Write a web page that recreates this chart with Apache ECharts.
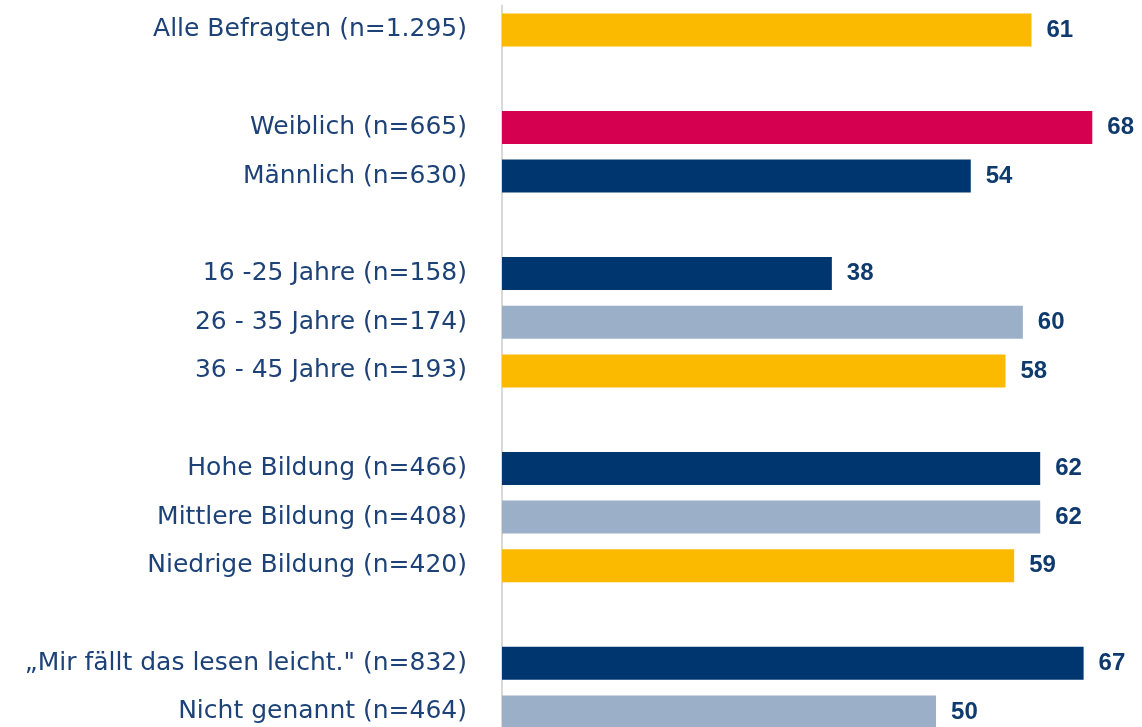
<!DOCTYPE html>
<html>
<head>
<meta charset="utf-8">
<script src="https://cdn.jsdelivr.net/npm/echarts@6/dist/echarts.min.js"></script>
<style>
  html, body { margin: 0; padding: 0; background: #ffffff; }
  #container { width: 1142px; height: 727px; }
</style>
</head>
<body>
<div id="container"></div>
<script>
// categories (empty strings are the gaps between groups)
var categories = [
  'Alle Befragten (n=1.295)', '',
  'Weiblich (n=665)', 'Männlich (n=630)', '',
  '16 -25 Jahre (n=158)', '26 - 35 Jahre (n=174)', '36 - 45 Jahre (n=193)', '',
  'Hohe Bildung (n=466)', 'Mittlere Bildung (n=408)', 'Niedrige Bildung (n=420)', '',
  '„Mir fällt das lesen leicht." (n=832)', 'Nicht genannt (n=464)'
];
var values = [61, null, 68, 54, null, 38, 60, 58, null, 62, 62, 59, null, 67, 50];
var barColors = ['#fbba00', null, '#d5004f', '#003670', null, '#003670', '#9bb0c8', '#fbba00', null,
                 '#003670', '#9bb0c8', '#fbba00', null, '#003670', '#9bb0c8'];

var dom = document.getElementById('container');
var myChart = echarts.init(dom, null, { renderer: 'canvas' });

var option = {
  animation: false,
  grid: { left: 502, width: 625, top: 5.6, height: 730.7, containLabel: false, outerBoundsMode: 'none' },
  xAxis: {
    type: 'value',
    min: 0,
    max: 72,
    show: false
  },
  yAxis: {
    type: 'category',
    inverse: true,
    data: categories,
    axisTick: { show: false },
    axisLine: { show: true, lineStyle: { color: '#d9d9d9', width: 2 } },
    axisLabel: {
      margin: 35,
      fontFamily: 'DejaVu Sans',
      fontSize: 25,
      color: '#1d4278'
    }
  },
  series: [{
    type: 'bar',
    barWidth: 33,
    data: values.map(function (v, i) {
      return v === null ? null : { value: v, itemStyle: { color: barColors[i] } };
    }),
    label: {
      show: true,
      position: 'right',
      distance: 15,
      fontFamily: 'Liberation Sans',
      fontWeight: 'bold',
      fontSize: 24,
      color: '#0e3a6e'
    }
  }]
};

myChart.setOption(option);
window.addEventListener('resize', myChart.resize);
</script>
</body>
</html>
